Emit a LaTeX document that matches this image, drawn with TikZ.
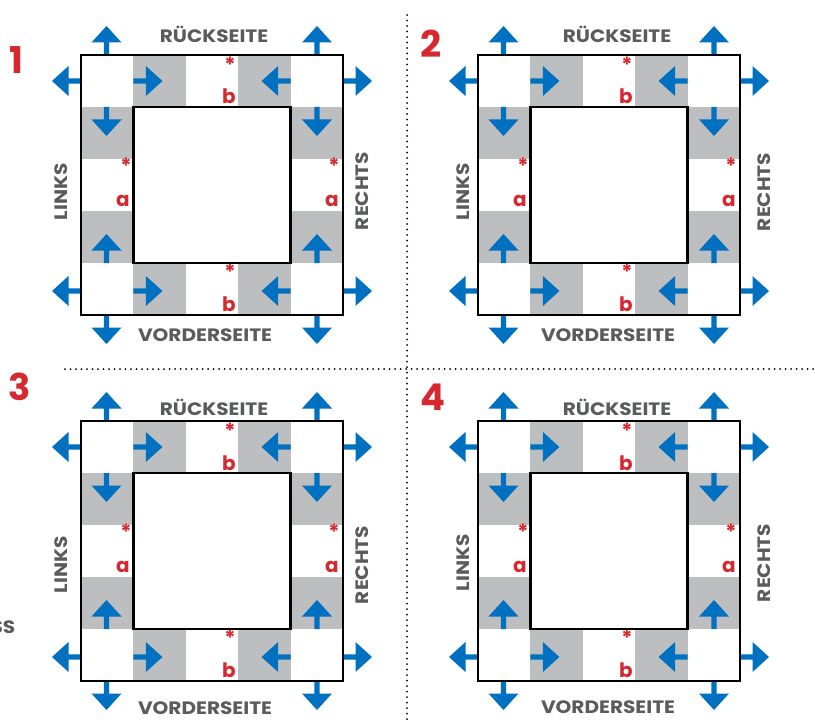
\documentclass[tikz,border=0pt]{standalone}
\usepackage{graphicx}
\usepackage{fontspec}
\setmainfont{Poppins}
\definecolor{arrowblue}{HTML}{0070C0}
\definecolor{cellgrey}{HTML}{BCBEC0}
\definecolor{markred}{HTML}{D7282F}
\definecolor{labelgrey}{HTML}{5A5B5D}
\tikzset{
  sidelabel/.style={font=\fontsize{18}{18}\selectfont\bfseries, text=labelgrey, inner sep=0pt},
  panelnum/.style={font=\fontsize{37}{37}\selectfont\bfseries, text=markred, inner sep=0pt},
  marklet/.style={font=\fontsize{20}{20}\selectfont\bfseries, text=markred, inner sep=0pt},
  markstar/.style={font=\fontsize{21}{21}\selectfont\bfseries, text=markred, inner sep=0pt},
  frameline/.style={draw=black, line width=2.6bp},
  dotline/.style={line width=2bp, line cap=round, dash pattern=on 0pt off 5.5bp},
}
\newcommand\widelab[1]{\scalebox{1.12}[1]{#1}}
\newcommand\blarr[3]{\fill[arrowblue,shift={(#1,#2)},rotate=#3] (0,-2.6) -- (12.5,-2.6) -- (12.5,-15) -- (29,0) -- (12.5,15) -- (12.5,2.6) -- (0,2.6) -- cycle;}
\newcommand\panelgrid{%
  % grey cells
  \fill[cellgrey] (52.4,0) rectangle (104.8,52);
  \fill[cellgrey] (157.2,0) rectangle (209.6,52);
  \fill[cellgrey] (52.4,208) rectangle (104.8,260);
  \fill[cellgrey] (157.2,208) rectangle (209.6,260);
  \fill[cellgrey] (0,52) rectangle (52.4,104);
  \fill[cellgrey] (0,156) rectangle (52.4,208);
  \fill[cellgrey] (209.6,52) rectangle (262,104);
  \fill[cellgrey] (209.6,156) rectangle (262,208);
  % arrows top row
  \blarr{25.5}{0}{90}
  \blarr{0}{26}{180}
  \blarr{52.4}{26}{0}
  \blarr{209.6}{26}{180}
  \blarr{236}{0}{90}
  \blarr{262}{26}{0}
  % side columns
  \blarr{25.5}{52}{-90}
  \blarr{25.5}{208}{90}
  \blarr{236}{52}{-90}
  \blarr{236}{208}{90}
  % bottom row
  \blarr{0}{236}{180}
  \blarr{25.5}{260}{-90}
  \blarr{52.4}{236}{0}
  \blarr{209.6}{236}{180}
  \blarr{262}{236}{0}
  \blarr{236}{260}{-90}
  % marks
  \node[markstar] at (149,10) {*};
  \node[marklet, anchor=base] at (148,49) {b};
  \node[markstar] at (45,111) {*};
  \node[marklet, anchor=base] at (42,151) {a};
  \node[markstar] at (253,111) {*};
  \node[marklet, anchor=base] at (251,151) {a};
  \node[markstar] at (149,217) {*};
  \node[marklet, anchor=base] at (148,256) {b};
  % frames
  \draw[frameline] (0,0) rectangle (262,260);
  \draw[frameline] (52.4,52) rectangle (209.6,208);
}
\begin{document}
\begin{tikzpicture}[x=1bp,y=-1bp]
\useasboundingbox (0,0) rectangle (815,724);
\fill[white] (0,0) rectangle (815,724);
% separators
\draw[dotline] (407,15) -- (407,724);
\draw[dotline] (65,369) -- (815,369);
% panel 1
\begin{scope}[shift={(81,55)}]
  \panelgrid
  \node[sidelabel] (back1) at (133,-21) {\widelab{RÜCKSEITE}};
  \node[sidelabel] (front1) at (124,280) {\widelab{VORDERSEITE}};
  \node[sidelabel, rotate=90] (left1) at (-20,137) {\widelab{LINKS}};
  \node[sidelabel, rotate=90] (right1) at (281,136) {\widelab{RECHTS}};
\end{scope}
\node[panelnum] (n1) at (16.5,60.5) {1};
% panel 2
\begin{scope}[shift={(478,55)}]
  \panelgrid
  \node[sidelabel] (back2) at (139,-21) {\widelab{RÜCKSEITE}};
  \node[sidelabel] (front2) at (130,280) {\widelab{VORDERSEITE}};
  \node[sidelabel, rotate=90] (left2) at (-15,137) {\widelab{LINKS}};
  \node[sidelabel, rotate=90] (right2) at (286,137) {\widelab{RECHTS}};
\end{scope}
\node[panelnum] (n2) at (431,43.5) {2};
% panel 3
\begin{scope}[shift={(81,421)}]
  \panelgrid
  \node[sidelabel] (back3) at (133,-14) {\widelab{RÜCKSEITE}};
  \node[sidelabel] (front3) at (124,287) {\widelab{VORDERSEITE}};
  \node[sidelabel, rotate=90] (left3) at (-20,144) {\widelab{LINKS}};
  \node[sidelabel, rotate=90] (right3) at (281,144) {\widelab{RECHTS}};
\end{scope}
\node[panelnum] (n3) at (20,387) {3};
% panel 4
\begin{scope}[shift={(478,421)}]
  \panelgrid
  \node[sidelabel] (back4) at (139,-14) {\widelab{RÜCKSEITE}};
  \node[sidelabel] (front4) at (130,286) {\widelab{VORDERSEITE}};
  \node[sidelabel, rotate=90] (left4) at (-15,142) {\widelab{LINKS}};
  \node[sidelabel, rotate=90] (right4) at (286,142) {\widelab{RECHTS}};
\end{scope}
\node[panelnum] (n4) at (432.5,397) {4};
% cut-off text at left
\node[sidelabel, anchor=east] (ss) at (15.5,627) {\widelab{SS}};
\end{tikzpicture}
\end{document}
